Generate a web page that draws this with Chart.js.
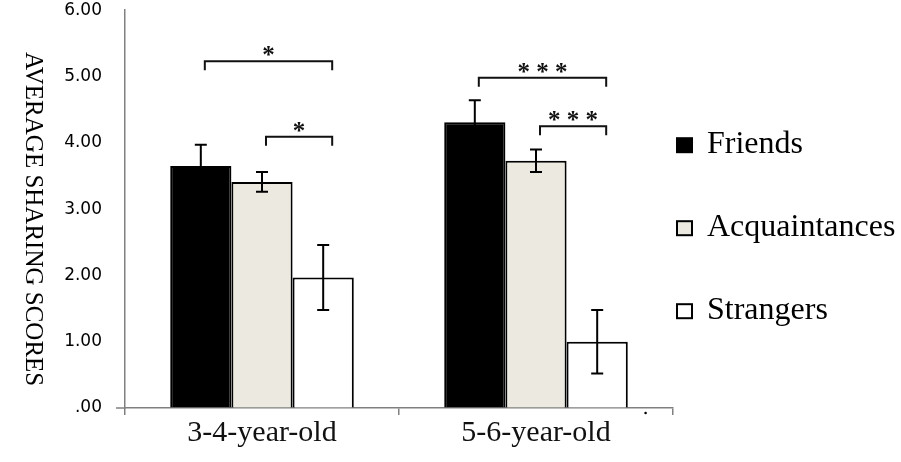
<!DOCTYPE html>
<html>
<head>
<meta charset="utf-8">
<script src="https://cdn.jsdelivr.net/npm/chart.js@4.4.1/dist/chart.umd.min.js"></script>
<style>
  body { margin: 0; background: #fff; }
  #wrap { width: 901px; height: 462px; position: relative; }
</style>
</head>
<body>
<div id="wrap"><canvas id="sharingChart"></canvas></div>
<script>
const categories = ["3-4-year-old", "5-6-year-old"];
const seriesNames = ["Friends", "Acquaintances", "Strangers"];
const friends = [3.65, 4.31];
const acquaintances = [3.41, 3.73];
const strangers = [1.97, 1.00];
const friendsErr = [0.32, 0.33];
const acquaintancesErr = [0.15, 0.17];
const strangersErr = [0.49, 0.48];
const yTickLabels = [".00", "1.00", "2.00", "3.00", "4.00", "5.00", "6.00"];

// significance brackets: group, from bar, to bar, level, marks
const bracketGroup = [0, 0, 1, 1];
const bracketFrom = [0, 1, 0, 1];
const bracketTo = [2, 2, 2, 2];
const bracketLevel = [5.23, 4.09, 4.98, 4.25];
const bracketMarks = ["*", "*", "* * *", "* * *"];

const errors = [friendsErr, acquaintancesErr, strangersErr];
const axisGray = "#808080";

const errorBars = {
  id: "errorBars",
  afterDatasetsDraw(chart) {
    const ctx = chart.ctx;
    const y = chart.scales.y;
    ctx.save();
    ctx.strokeStyle = "#000";
    ctx.lineWidth = 2;
    chart.data.datasets.forEach((ds, i) => {
      chart.getDatasetMeta(i).data.forEach((bar, j) => {
        const v = ds.data[j];
        const e = errors[i][j];
        const top = y.getPixelForValue(v + e);
        const bot = y.getPixelForValue(v - e);
        ctx.beginPath();
        ctx.moveTo(bar.x, top);
        ctx.lineTo(bar.x, bot);
        ctx.moveTo(bar.x - 6, top);
        ctx.lineTo(bar.x + 6, top);
        ctx.moveTo(bar.x - 6, bot);
        ctx.lineTo(bar.x + 6, bot);
        ctx.stroke();
      });
    });
    ctx.restore();
  }
};

const brackets = {
  id: "brackets",
  afterDatasetsDraw(chart) {
    const ctx = chart.ctx;
    const y = chart.scales.y;
    ctx.save();
    ctx.strokeStyle = "#111";
    ctx.lineWidth = 2;
    ctx.fillStyle = "#111";
    ctx.font = "bold 25px 'Liberation Serif'";
    ctx.textAlign = "center";
    ctx.textBaseline = "alphabetic";
    bracketLevel.forEach((lvl, k) => {
      const g = bracketGroup[k];
      const x1 = chart.getDatasetMeta(bracketFrom[k]).data[g].x + 4;
      const x2 = chart.getDatasetMeta(bracketTo[k]).data[g].x + 9;
      const py = y.getPixelForValue(lvl);
      ctx.beginPath();
      ctx.moveTo(x1, py + 9);
      ctx.lineTo(x1, py);
      ctx.lineTo(x2, py);
      ctx.lineTo(x2, py + 9);
      ctx.stroke();
      ctx.fillText(bracketMarks[k], (x1 + x2) / 2, py + 2);
    });
    ctx.restore();
  }
};

const extras = {
  id: "extras",
  afterDraw(chart) {
    const ctx = chart.ctx;
    const area = chart.chartArea;

    // short tick at zero, left of the y axis
    ctx.save();
    ctx.strokeStyle = axisGray;
    ctx.lineWidth = 1.5;
    ctx.beginPath();
    ctx.moveTo(area.left - 9, area.bottom);
    ctx.lineTo(area.left, area.bottom);
    ctx.stroke();
    ctx.restore();

    ctx.save();
    // rotated y title, reading top to bottom
    ctx.translate(33, (area.top + area.bottom) / 2 + 10);
    ctx.rotate(Math.PI / 2);
    ctx.font = "25px 'Liberation Serif'";
    ctx.fillStyle = "#000";
    ctx.textAlign = "center";
    ctx.textBaseline = "middle";
    ctx.fillText("AVERAGE SHARING SCORES", 0, 0);
    ctx.restore();

    // legend
    ctx.save();
    ctx.font = "32px 'Liberation Serif'";
    ctx.textBaseline = "alphabetic";
    ctx.textAlign = "left";
    chart.data.datasets.forEach((ds, i) => {
      const cy = area.top + 135 + i * 83;
      const sx = area.right + 4;
      ctx.fillStyle = ds.backgroundColor;
      ctx.fillRect(sx, cy - 7, 15, 14);
      ctx.strokeStyle = "#000";
      ctx.lineWidth = 2;
      ctx.strokeRect(sx, cy - 7, 15, 14);
      ctx.fillStyle = "#000";
      ctx.fillText(ds.label, sx + 30, cy + 8);
    });
    ctx.restore();

    // stray dot under the axis
    ctx.save();
    ctx.fillStyle = "#000";
    ctx.beginPath();
    ctx.arc(chart.scales.x.getPixelForValue(1.4), area.bottom + 5, 1.3, 0, Math.PI * 2);
    ctx.fill();
    ctx.restore();
  }
};

new Chart(document.getElementById("sharingChart"), {
  type: "bar",
  data: {
    labels: categories,
    datasets: [
      { label: seriesNames[0], data: friends, backgroundColor: "#000000", borderColor: "#000", borderWidth: 2 },
      { label: seriesNames[1], data: acquaintances, backgroundColor: "#ECEAE0", borderColor: "#000", borderWidth: 2 },
      { label: seriesNames[2], data: strangers, backgroundColor: "#ffffff", borderColor: "#000", borderWidth: 2 }
    ]
  },
  options: {
    responsive: true,
    maintainAspectRatio: false,
    animation: false,
    devicePixelRatio: 1,
    categoryPercentage: 0.67,
    barPercentage: 1.0,
    layout: { padding: { top: 10, right: 228, bottom: 0, left: 0 } },
    plugins: { legend: { display: false }, tooltip: { enabled: false } },
    scales: {
      x: {
        grid: { drawOnChartArea: false, offset: true, color: axisGray, lineWidth: 1.5, tickLength: 7 },
        border: { display: true, color: axisGray, width: 1.5 },
        ticks: { color: "#111", font: { family: "Liberation Serif", size: 30 }, padding: 0 },
        afterFit(s) { s.height = 54; }
      },
      y: {
        min: 0,
        max: 6,
        ticks: {
          stepSize: 1,
          color: "#000",
          font: { family: "DejaVu Sans", size: 17 },
          padding: 0,
          callback: (v, i) => yTickLabels[i]
        },
        grid: {
          drawOnChartArea: false,
          tickLength: 23,
          color: "rgba(0,0,0,0)"
        },
        border: { display: true, color: axisGray, width: 1.5 },
        afterFit(s) { s.width = 125; }
      }
    }
  },
  plugins: [errorBars, brackets, extras]
});
</script>
</body>
</html>
